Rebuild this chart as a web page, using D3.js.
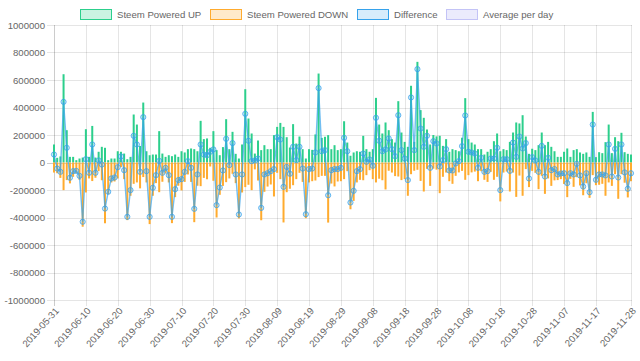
<!DOCTYPE html>
<html>
<head>
<meta charset="utf-8">
<script src="https://cdn.jsdelivr.net/npm/d3@7"></script>
<style>
  body { margin: 0; background: #fff; }
  svg { display: block; font-family: "Liberation Sans", Arial, sans-serif; }
</style>
</head>
<body>
<script>
const w = 640;
const h = 361;

// categories: one per day
const firstDay = "2019-05-31";
const lastDay = "2019-11-28";
const tickLabels = ["2019-05-31", "2019-06-10", "2019-06-20", "2019-06-30", "2019-07-10", "2019-07-20",
  "2019-07-30", "2019-08-09", "2019-08-19", "2019-08-29", "2019-09-08", "2019-09-18", "2019-09-28",
  "2019-10-08", "2019-10-18", "2019-10-28", "2019-11-07", "2019-11-17", "2019-11-28"];
const yTicks = [1000000, 800000, 600000, 400000, 200000, 0, -200000, -400000, -600000, -800000, -1000000];
const seriesNames = ["Steem Powered UP", "Steem Powered DOWN", "Difference", "Average per day"];

const poweredUp = [
  131000, 34000, 44000, 642000, 235000, 41000, 41000, 17000, 29000, 36000,
  242000, 41000, 266000, 36000, 78000, 114000, 107000, 17000, 29000, 29000,
  82000, 78000, 65000, 24000, 41000, 349000, 276000, 120000, 436000, 82000,
  53000, 58000, 58000, 228000, 65000, 41000, 53000, 46000, 58000, 41000,
  82000, 73000, 97000, 102000, 97000, 82000, 303000, 170000, 175000, 107000,
  228000, 90000, 53000, 112000, 315000, 97000, 223000, 63000, 29000, 131000,
  533000, 320000, 211000, 65000, 160000, 90000, 126000, 97000, 97000, 199000,
  259000, 288000, 259000, 184000, 109000, 279000, 138000, 189000, 97000, 29000,
  97000, 92000, 204000, 647000, 179000, 187000, 199000, 97000, 126000, 90000,
  97000, 300000, 145000, 49000, 73000, 82000, 78000, 194000, 97000, 78000,
  97000, 470000, 276000, 211000, 291000, 235000, 170000, 145000, 446000, 218000,
  150000, 114000, 558000, 150000, 732000, 381000, 325000, 240000, 131000, 200000,
  190000, 194000, 121000, 170000, 78000, 97000, 90000, 82000, 180000, 468000,
  170000, 145000, 131000, 97000, 97000, 58000, 78000, 97000, 155000, 211000,
  82000, 97000, 90000, 150000, 218000, 291000, 284000, 344000, 189000, 63000,
  100000, 90000, 126000, 218000, 126000, 150000, 114000, 82000, 41000, 41000,
  78000, 102000, 41000, 90000, 97000, 73000, 63000, 73000, 41000, 368000,
  39000, 75000, 68000, 148000, 276000, 68000, 184000, 155000, 216000, 75000,
  63000, 58000
];

const poweredDown = [
  -73000, -78000, -112000, -201000, -128000, -152000, -104000, -78000, -126000, -467000,
  -218000, -116000, -135000, -111000, -63000, -129000, -442000, -230000, -145000, -138000,
  -116000, -34000, -121000, -419000, -242000, -155000, -145000, -188000, -106000, -145000,
  -448000, -242000, -150000, -216000, -140000, -80000, -145000, -441000, -252000, -169000,
  -203000, -141000, -87000, -141000, -434000, -169000, -172000, -112000, -122000, -29000,
  -133000, -400000, -235000, -170000, -143000, -116000, -82000, -150000, -407000, -218000,
  -179000, -162000, -201000, -50000, -131000, -420000, -213000, -175000, -160000, -247000,
  -75000, -121000, -436000, -216000, -191000, -165000, -121000, -75000, -141000, -405000,
  -145000, -136000, -131000, -106000, -97000, -97000, -437000, -153000, -174000, -138000,
  -136000, -121000, -63000, -340000, -279000, -145000, -126000, -129000, -92000, -56000,
  -121000, -145000, -118000, -129000, -196000, -60000, -73000, -99000, -102000, -128000,
  -121000, -242000, -85000, -60000, -53000, -134000, -211000, -46000, -170000, -45000,
  -52000, -223000, -104000, -73000, -136000, -155000, -97000, -72000, -61000, -126000,
  -92000, -72000, -66000, -136000, -63000, -126000, -141000, -68000, -126000, -104000,
  -283000, -73000, -66000, -211000, -73000, -250000, -95000, -242000, -48000, -179000,
  -61000, -75000, -194000, -97000, -228000, -116000, -170000, -130000, -128000, -121000,
  -156000, -252000, -119000, -177000, -107000, -167000, -238000, -151000, -257000, -92000,
  -165000, -162000, -155000, -242000, -145000, -170000, -85000, -264000, -85000, -147000,
  -254000, -136000
];

const difference = [
  58000, -44000, -68000, 441000, 107000, -111000, -63000, -61000, -97000, -431000,
  24000, -75000, 131000, -75000, 15000, -15000, -335000, -213000, -116000, -109000,
  -34000, 44000, -56000, -395000, -201000, 194000, 131000, -68000, 330000, -63000,
  -395000, -184000, -92000, 12000, -75000, -39000, -92000, -395000, -194000, -128000,
  -121000, -68000, 10000, -39000, -337000, -87000, 131000, 58000, 53000, 78000,
  95000, -310000, -182000, -58000, 172000, -19000, 141000, -87000, -378000, -87000,
  354000, 158000, 10000, 15000, 29000, -330000, -87000, -78000, -63000, -48000,
  184000, 167000, -177000, -32000, -82000, 114000, 17000, 114000, -44000, -376000,
  -48000, -44000, 73000, 541000, 82000, 90000, -238000, -56000, -48000, -48000,
  -39000, 179000, 82000, -291000, -206000, -63000, -48000, 65000, 5000, 22000,
  -24000, 325000, 158000, 82000, 95000, 175000, 97000, 46000, 344000, 90000,
  29000, -128000, 473000, 90000, 679000, 247000, 114000, 194000, -39000, 155000,
  138000, -29000, 17000, 97000, -58000, -58000, -7000, 10000, 119000, 342000,
  78000, 73000, 65000, -39000, 34000, -68000, -63000, 29000, 29000, 107000,
  -201000, 24000, 24000, -61000, 145000, 41000, 189000, 102000, 141000, -116000,
  39000, 15000, -68000, 121000, -102000, 34000, -56000, -48000, -87000, -80000,
  -78000, -150000, -78000, -87000, -10000, -94000, -175000, -78000, -216000, 276000,
  -126000, -87000, -87000, -94000, 131000, -102000, 99000, -109000, 131000, -72000,
  -191000, -78000
];

const green = "#2ccf8c";
const orange = "#ffab2e";
const blue = "#36a2eb";

const parseDay = d3.timeParse("%Y-%m-%d");
const fmtDay = d3.timeFormat("%Y-%m-%d");
const days = d3.timeDay.range(parseDay(firstDay), d3.timeDay.offset(parseDay(lastDay), 1)).map(fmtDay);

const svg = d3.select("body").append("svg")
  .attr("width", w)
  .attr("height", h);

const xScale = d3.scalePoint()
  .domain(days)
  .range([54, 631]);

const yScale = d3.scaleLinear()
  .domain([-1000000, 1000000])
  .range([300, 25]);

// horizontal grid + y labels
svg.append("g").selectAll("line")
  .data(yTicks)
  .enter()
  .append("line")
  .attr("x1", 47).attr("x2", 632)
  .attr("y1", d => Math.round(yScale(d)) + 0.5)
  .attr("y2", d => Math.round(yScale(d)) + 0.5)
  .attr("stroke", d => d == 0 ? "rgba(0,0,0,0.2)" : "rgba(0,0,0,0.1)");

svg.append("g").selectAll("text")
  .data(yTicks)
  .enter()
  .append("text")
  .attr("x", 45)
  .attr("y", d => yScale(d) + 3.5)
  .attr("text-anchor", "end")
  .attr("font-size", "9.6px")
  .attr("fill", "#666")
  .text(d => d);

// vertical grid + x labels
svg.append("g").selectAll("line")
  .data(tickLabels)
  .enter()
  .append("line")
  .attr("x1", d => Math.round(xScale(d)) + 0.5)
  .attr("x2", d => Math.round(xScale(d)) + 0.5)
  .attr("y1", 25).attr("y2", 306)
  .attr("stroke", (d, i) => i == 0 ? "rgba(0,0,0,0.2)" : "rgba(0,0,0,0.1)");

svg.append("g").selectAll("text")
  .data(tickLabels)
  .enter()
  .append("text")
  .attr("transform", d => "translate(" + (xScale(d) + 3) + ",309) rotate(-48)")
  .attr("text-anchor", "end")
  .attr("dy", "0.35em")
  .attr("font-size", "9.6px")
  .attr("fill", "#666")
  .text(d => d);

// bars
const barW = 2;
svg.append("g").selectAll("rect")
  .data(poweredUp)
  .enter()
  .append("rect")
  .attr("x", (d, i) => xScale(days[i]) - barW / 2)
  .attr("y", d => yScale(d))
  .attr("width", barW)
  .attr("height", d => yScale(0) - yScale(d))
  .attr("fill", green);

svg.append("g").selectAll("rect")
  .data(poweredDown)
  .enter()
  .append("rect")
  .attr("x", (d, i) => xScale(days[i]) - barW / 2)
  .attr("y", yScale(0))
  .attr("width", barW)
  .attr("height", d => yScale(d) - yScale(0))
  .attr("fill", orange);

// difference line
const line = d3.line()
  .x((d, i) => xScale(days[i]))
  .y(d => yScale(d));

svg.append("path")
  .datum(difference)
  .attr("d", line)
  .attr("fill", "none")
  .attr("stroke", "rgba(54,162,235,0.7)")
  .attr("stroke-width", 1.4);

svg.append("g").selectAll("circle")
  .data(difference)
  .enter()
  .append("circle")
  .attr("cx", (d, i) => xScale(days[i]))
  .attr("cy", d => yScale(d))
  .attr("r", 2.6)
  .attr("fill", "rgba(54,162,235,0.25)")
  .attr("stroke", "rgba(54,162,235,0.75)")
  .attr("stroke-width", 1);

// legend
const legendFill = ["rgba(44,207,140,0.25)", "rgba(255,171,46,0.25)", "rgba(54,162,235,0.2)", "rgba(153,153,240,0.2)"];
const legendStroke = [green, orange, blue, "rgba(190,190,245,0.9)"];
const legendX = [80, 210, 357, 446];

const legend = svg.append("g").selectAll("g")
  .data(seriesNames)
  .enter()
  .append("g")
  .attr("transform", (d, i) => "translate(" + legendX[i] + ",9)");

legend.append("rect")
  .attr("x", 0.5).attr("y", 0.5)
  .attr("width", 31).attr("height", 10)
  .attr("fill", (d, i) => legendFill[i])
  .attr("stroke", (d, i) => legendStroke[i]);

legend.append("text")
  .attr("x", 37)
  .attr("y", 9)
  .attr("font-size", "9.6px")
  .attr("fill", "#666")
  .text(d => d);
</script>
</body>
</html>
